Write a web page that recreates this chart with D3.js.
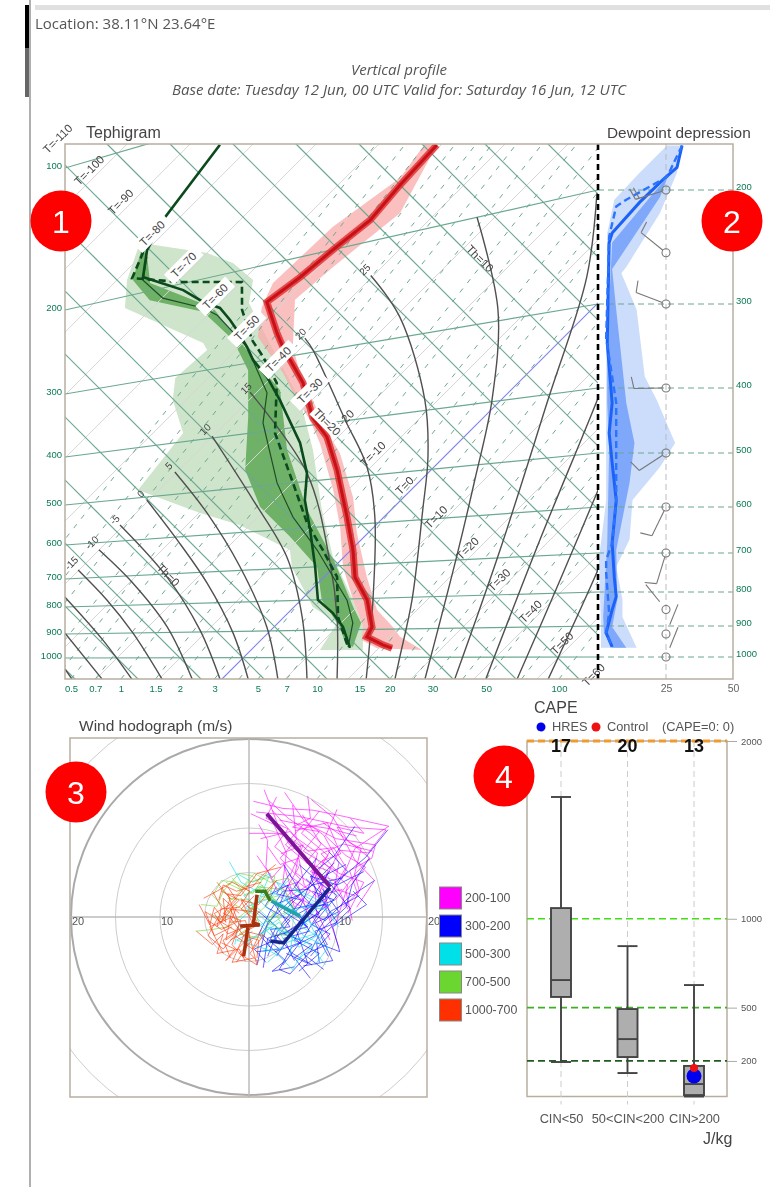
<!DOCTYPE html>
<html>
<head>
<meta charset="utf-8">
<script src="https://cdn.jsdelivr.net/npm/d3@7"></script>
<style>
  body { margin: 0; background: #fff; }
  svg { display: block; filter: blur(0.45px); }
</style>
</head>
<body>
<svg id="chart" width="770" height="1187"></svg>
<script>
// ---- grid values of the tephigram
var pressures = [100, 200, 300, 400, 500, 600, 700, 800, 900, 1000];
var rightPressures = [200, 300, 400, 500, 600, 700, 800, 900, 1000];
var isotherms = d3.range(-130, 121, 10);
var adiabats = d3.range(-40, 151, 10);
var mixingTicks = [0.5, 0.7, 1, 1.5, 2, 3, 5, 7, 10, 15, 20, 30, 50, 100];
var mixingLines = [0.1, 0.15, 0.2, 0.3, 0.4, 0.5, 0.7, 1, 1.5, 2, 3, 4, 5, 7, 10, 15, 20, 25, 30, 40, 50, 70, 100];
var tempLabels = [-110, -100, -90, -80, -70, -60, -50, -40, -30, -20, -10, 0, 10, 20, 30, 40, 50, 60];

// moist adiabats as [T, theta]
var moistCurves = [
  [[-23.1, -30.5], [-25.7, -30]],
  [[-18.5, -25.7], [-31.2, -24.3]],
  [[-13.8, -21], [-24.3, -19.4], [-36.8, -18.6]],
  [[-9.2, -16.2], [-20.8, -13.5], [-29.8, -12.4], [-38.9, -12.2]],
  [[-4.6, -11.4], [-16.5, -7.1], [-28.5, -5.6], [-38.8, -5.7]],
  [[-0.3, -7], [-10.9, -2.4], [-24.2, 0.8], [-39.4, 1.6]],
  [[4, -2.5], [-5.4, 2.4], [-17.1, 6.2], [-28.3, 8.3], [-39.1, 9.8]],
  [[8.6, 2.2], [-1.1, 8.7], [-14.5, 14], [-27.8, 17.3], [-39.1, 18.7]],
  [[13.1, 6.8], [2.8, 15.9], [-8.8, 23], [-22.8, 26.7], [-38.9, 30.3]],
  [[17.7, 11.6], [8.2, 21.4], [-1.2, 28.9], [-18.6, 39.5], [-39.8, 43.3]],
  [[22.2, 16.2], [11.1, 29.8], [-1.4, 43.3], [-10.3, 50], [-20.9, 54], [-36.6, 60], [-39.7, 60.6]],
  [[26.6, 20.8], [24, 25], [17.1, 36], [4.9, 52], [-2.5, 61.3], [-11.7, 69.8], [-28.3, 79], [-39.2, 81]],
  [[31.2, 25.6], [17.1, 50.3], [8.3, 65], [-1.4, 80.5], [-14.3, 95.7], [-31.8, 107.1]],
  [[35.8, 30.3], [22.9, 58], [7.2, 89.4], [-5.7, 115], [-17.1, 130]],
  [[40.6, 35.2], [27.5, 65.9], [14.8, 97.2], [5, 120]],
  [[45.4, 40.2], [36.8, 62.7], [28.6, 83.5], [20, 105]],
  [[50.2, 45.1], [40.8, 71], [35, 85]]
];
var moistLabels = ["-15", "-10", "-5", "0", "5", "10", "15", "20", "25"];
var moistLabelThetas = [-12.2, -5.7, 1.6, 9.8, 18.7, 30.3, 43.3, 60.6, 81];
var thLabels = ["Th=0", "Th=10", "Th=20"];
var thLabelPoints = [[-24.3, 1.3], [-25, 101], [-23.4, 50.8]];

// temperature profile, [T, theta]
var tempBand = [[-51.1, 110.5], [-49.7, 101.1], [-52.5, 82.7], [-53.1, 64.3], [-51.1, 58.7], [-47.1, 53.3], [-43.7, 52.7], [-37.7, 51.6], [-31.4, 49.5], [-26.3, 48.4], [-21.2, 46.3], [-12, 41], [-5.2, 36.2], [1.4, 30.3], [8, 26.7], [13.7, 24], [15.5, 21.7], [19.1, 22.8], [26.3, 29.7], [20.9, 28.3], [18.3, 28.7], [13.2, 28.9], [6.6, 32.5], [-1.7, 37.9], [-7.8, 43], [-16.6, 47.9], [-21.5, 49.2], [-35.1, 54.3], [-40.2, 57.3], [-47.1, 65.1], [-46.3, 76.3], [-44.3, 95.6], [-49.1, 112.2]];
var tempMedian = [[-49.1, 112.2], [-48.6, 100], [-47.8, 89.7], [-48.9, 79.7], [-49.8, 69.5], [-51.1, 60.3], [-44.8, 57], [-41.7, 55.7], [-38.6, 54.8], [-33.1, 53.2], [-26.2, 49.2], [-21.1, 48.4], [-14.5, 44.8], [-5.7, 38.9], [0.3, 34.6], [4.8, 30.6], [10.2, 28.9], [15.1, 25.4], [15.8, 23], [19.5, 24.3], [21.4, 25.2]];

// dew point profile, [T, theta]
var dewBandOuter = [[-77.4, 51.3], [-67.8, 58.6], [-62.3, 61.1], [-56.6, 61.6], [-53.7, 57.3], [-42.8, 53.7], [-30.9, 50], [-21.2, 44.1], [-10.6, 36], [-1.7, 30.3], [8, 26.7], [13.7, 24], [17.2, 20.3], [10.6, 13.5], [9.1, 20.5], [2.9, 19.2], [-6.5, 22.2], [-9.4, 24.6], [-20.9, 20.6], [-28.9, 16.2], [-42, 10], [-43.8, 26.2], [-50.5, 29.8], [-53.5, 33.7], [-52.9, 43.2], [-54.6, 43.7], [-72, 36.8], [-76, 41.6], [-79.2, 48.4]];
var dewBandInner = [[-78.6, 49], [-75.1, 42.5], [-69.4, 42], [-59.4, 48.6], [-51.4, 48.9], [-48.2, 48.1], [-43.5, 46.5], [-36.3, 39.1], [-28.6, 30.2], [-20.6, 26.7], [-11.4, 26.7], [-2.6, 26.2], [3.2, 21.7], [10.2, 20.3], [13.4, 18.6], [15.2, 19.2], [12.8, 24.3], [9.1, 25.6], [-0.5, 29.7], [-12.9, 33.7], [-25.2, 40], [-35.5, 48.4], [-46.8, 49.5], [-51.5, 50], [-58.5, 50.8], [-72, 44.8], [-77.1, 49]];
var dewHres = [[-82.5, 77.8], [-79.8, 57.6], [-77.5, 49.5], [-74, 44.6], [-65.8, 48.9], [-60.9, 50.2], [-57.4, 51.9], [-54, 51.6], [-51.4, 51.1], [-47.2, 50], [-44.3, 48.9], [-39.5, 48.4], [-34, 46.8], [-24.3, 43.2], [-18.6, 39.5], [-14.8, 34.9], [-9.4, 31], [-2.9, 25.9], [2.6, 21.1], [6.9, 21.4], [10.6, 20.8], [14.9, 18.6]];
var dewControl = [[-77.8, 48.6], [-75.5, 42.7], [-67.5, 49.7], [-58, 59.5], [-53.7, 55.1], [-47.5, 51.9], [-43.2, 51], [-37.1, 49], [-29.7, 40.8], [-19.2, 35.7], [-10.9, 31.6], [-4.3, 29.8], [2, 27.8], [8.3, 21.6], [14.5, 18.4]];
var dewMedian = [[-76.5, 48.4], [-73.5, 44.1], [-67.7, 44.4], [-60, 49.2], [-56.8, 50.3], [-47.2, 50], [-37.1, 45.9], [-33.1, 40.5], [-21.7, 33.2], [-14, 30.3], [-5.2, 28.9], [7.1, 25.7], [11.5, 23], [14.5, 18.4]];

// dewpoint depression panel, [depression, pressure]
var dpdBandOuter = [[30.2, 168], [29.1, 187], [22.8, 217], [10.4, 263], [8.6, 269], [14.2, 306], [17.2, 385], [21.6, 417], [28.4, 483], [22.8, 524], [12.7, 586], [11.6, 669], [6.7, 734], [9, 822], [9, 872], [14.2, 969], [1.1, 969], [1.1, 912], [0.4, 711], [3, 587], [3, 416], [3.4, 233], [6, 207], [15.3, 187], [25.4, 168]];
var dpdBandInner = [[29.5, 171], [25.4, 190], [5.2, 241], [3.4, 343], [3.4, 421], [4.1, 494], [3.4, 677], [1.9, 872], [2.2, 921], [5.2, 969], [10.4, 969], [5.2, 903], [7.1, 822], [6.7, 693], [11.6, 553], [13.4, 483], [10.4, 421], [6.7, 306], [5.2, 265], [22.8, 205]];
var dpdHres = [[31, 168], [29.1, 183], [23.9, 192], [15.3, 209], [5.2, 233], [4.1, 241], [3.4, 343], [5.2, 421], [4.1, 467], [5.2, 517], [6.7, 587], [5.2, 677], [6, 761], [6.7, 813], [5.2, 851], [3, 921], [5.2, 966]];
var dpdControl = [[31, 168], [25.4, 190], [10.4, 207], [6.7, 212], [4.1, 236], [3, 337], [6.7, 421], [6.7, 587], [5.2, 677], [3, 717], [3, 749], [4.1, 860], [3, 921], [5.2, 966]];

// wind barbs at the 25 tick
var barbPressures = [200, 250, 300, 400, 500, 600, 700, 850, 925, 1000];
var barbHeading = [253, 309, 291, 269, 237, 206, 197, 321, 22, 22];
var barbFeathers = [2, 1, 1, 1, 1, 1, 1, 0, 0, 0];

// hodograph members [u, v] in m/s
var hodoRings = [5, 10, 15, 20, 25];
var hodoLayers = ["200-100", "300-200", "500-300", "700-500", "1000-700"];
var hodoColors = ["#ff00ff", "#0000ff", "#00e0e8", "#6cd630", "#ff3000"];
var hodoMeanColors = ["#7c1498", "#16278c", "#1fa5a8", "#3f7d18", "#a8320f"];
var members200 = [
  [[1.7, 14.3], [3.2, 10.5], [4.5, 8.2], [6.8, 6.2], [8.4, 3.1], [9.3, -0.5]],
  [[4, 14], [6.2, 10.8], [8.4, 9.2], [10.1, 6.1], [9.6, 3.2], [11.9, 2.4]],
  [[7, 13.2], [9.4, 11.2], [11.2, 8.4], [12.6, 7.7], [11.8, 4.6], [9.7, 1.9]],
  [[0.5, 13], [3.8, 12.2], [7.2, 12], [10.2, 11.4], [15.7, 10.2], [11.9, 7.7], [10.4, 4.2]],
  [[0.2, 11.6], [2.8, 10.4], [4.2, 7.2], [3.8, 3.8], [6.1, 1.6], [8.1, -1.4]],
  [[0, 9.4], [3.4, 9.4], [5.8, 8], [5.2, 5], [7.4, 3.4], [7.6, 0.2]],
  [[0.8, 11.8], [5.6, 11.3], [11.2, 10.1], [15.4, 9.8], [13.4, 7.2], [10.2, 7.5], [8.6, 4.4]],
  [[2.6, 12], [5.4, 8.8], [3.5, 6.6], [5.8, 4.2], [4.2, 2.2], [6.4, 0.8]],
  [[6, 11.5], [8.1, 8.2], [6.4, 6.1], [8.9, 5.2], [7.8, 2.4], [10.5, 3.1]],
  [[3.4, 10.9], [7.2, 10.1], [9.8, 8.8], [14.2, 8.1], [13.8, 6.6], [11.3, 5.2], [12.2, 2.6]],
  [[1.3, 8.8], [4.6, 9.6], [6.6, 7.4], [9.5, 7.8], [10.9, 5.6], [9.2, 2.7]],
  [[4.9, 12.6], [5.3, 8.9], [7.7, 7.2], [7, 4.4], [9, 3], [8.2, 0.8]],
  [[8.3, 10.6], [10.6, 9], [13.6, 6.6], [11.9, 4.8], [12.4, 2.9], [10.6, 1.1]],
  [[2.1, 7.9], [3.5, 5.9], [5.6, 6.6], [6.2, 3.6], [8.4, 1.6], [10.1, -3.4]],
  [[5.2, 9.7], [8.8, 10.6], [10.3, 7.1], [8.2, 6.3], [11.1, 3.5], [9.7, -0.9]],
  [[3.6, 7.1], [6.1, 8.1], [4.6, 4.6], [6.9, 2.9], [5.1, 1.1], [4.4, 3.6]],
  [[12.1, 9.1], [9.2, 9.9], [6.1, 10.4], [4.1, 8.1], [7.1, 5.6], [8.6, 1.4]],
  [[13.9, 7.4], [10.6, 8.2], [8.1, 7.1], [10.1, 4.9], [12.9, 3.9], [11.1, 0.4]],
  [[2.2, 13.1], [4.4, 11.1], [6.9, 9.4], [9.1, 7.4], [7.1, 3.9], [5.6, 2.9]],
  [[1.1, 10.4], [2.1, 8.6], [1.9, 5.6], [3.1, 3.1], [5.4, 3.9], [6.9, -0.6]],
  [[9.9, 12.1], [8.6, 9.1], [10.9, 6.9], [13.1, 5.6], [10.9, 2.9], [11.6, -0.4]],
  [[6.6, 13.6], [6.9, 11.1], [4.9, 10.1], [7.9, 9.6], [6.1, 7.4], [9.9, 5.1]],
  [[3.1, 13.5], [1.9, 11.1], [4.4, 9.9], [2.9, 7.9], [5.6, 5.6], [3.6, 2.1]],
  [[11.4, 11.1], [12.9, 9.4], [9.9, 10.1], [11.9, 6.4], [14.1, 4.1], [12.1, 1.1]],
  [[0.9, 6.9], [2.6, 4.4], [3.9, 5.9], [4.9, 2.6], [7.4, 1.1], [9.1, -2.6]],
  [[7.9, 11.9], [5.9, 9.4], [8.9, 6.9], [6.9, 5.1], [9.6, 4.1], [11.1, 0.9]]
];
var members300 = [
  [[15.6, 9.8], [13.1, 6.7], [10.4, 4.4], [8.4, 1.4], [6.1, -2.4], [3.8, -5.4]],
  [[11.9, 10.2], [9.6, 6.9], [7.4, 5.1], [5.8, 1.2], [3.2, -1.6], [2.1, -4.4]],
  [[13.5, 6.6], [11.6, 3.7], [10.9, 1.1], [8.2, -1.4], [6.9, -3.9], [4.6, -6.4]],
  [[12.4, 2.4], [9.1, 0.6], [7.4, -2.1], [4.8, -3.4], [3.4, -5.9], [4.6, -6.4]],
  [[10.5, 4.4], [7.1, 3.6], [4.4, 1.6], [2.1, -0.6], [1.4, -3.2], [0.9, -5.4]],
  [[9.6, 6.1], [6.6, 3.1], [3.8, 2.9], [2.4, 0.7], [1.1, -1.9], [2.4, -3.4]],
  [[8.2, 3.2], [10.1, 0.6], [7.4, -0.7], [8.8, -3.1], [6.2, -4.2], [8.4, -5.9]],
  [[6.4, 4.3], [8.7, 2.1], [5.6, 0.4], [6.8, -1.6], [3.9, -2.4], [5.1, -4.9]],
  [[11.7, 2.9], [13.2, 1.4], [9.4, -1.1], [10.2, -3.9], [7.6, -2.9], [7.9, -5.1]],
  [[4.6, 4.9], [3.1, 2.6], [5.9, 1.9], [3.6, -0.9], [5.7, -2.9], [2.9, -3.9]],
  [[9.1, 5.2], [6.4, 1.1], [8.9, 1.4], [5.3, -1.4], [6.6, -5.2], [4.2, -4.1]],
  [[7.6, 6.6], [5.1, 3.4], [7.9, 0.4], [4.4, -1.6], [2.1, -2.4], [1.6, -5.7]],
  [[3.1, 3.4], [1.8, 1.2], [4.6, -0.4], [2.9, -2.6], [0.6, -3.6], [1.9, -5.1]],
  [[10.9, 5.9], [8.4, 4.6], [11.4, 0.9], [8.1, -2.2], [9.4, -4.9], [6.1, -5.5]],
  [[4.1, 2.1], [6.1, -0.4], [3.9, -1.9], [7.1, -3.1], [5.1, -4.6], [6.9, -6.9]],
  [[7.1, 2.9], [9.6, 1.9], [6.9, 0.9], [5.1, -2.6], [7.9, -4.1], [5.6, -6.1]],
  [[2.1, 2.4], [4.4, 3.6], [3.1, 0.6], [1.4, -1.9], [3.4, -3.6], [0.9, -3.9]],
  [[5.6, 5.9], [7.9, 3.9], [9.9, 2.4], [7.1, -0.9], [9.1, -1.9], [6.9, -4.4]],
  [[14.1, 4.1], [11.1, 2.1], [8.6, -0.4], [6.4, 0.6], [4.6, -2.1], [3.1, -4.4]],
  [[1.1, 0.6], [3.1, -1.1], [2.1, -3.1], [4.1, -4.9], [2.6, -6.1], [5.1, -5.6]],
  [[12.9, 5.1], [9.9, 3.6], [6.9, 4.6], [8.1, 1.6], [4.9, 0.9], [6.4, -1.1]],
  [[8.9, 7.4], [11.1, 5.1], [7.9, 2.4], [9.9, -0.6], [7.4, -1.6], [8.9, -4.4]],
  [[3.9, 5.9], [5.9, 2.6], [2.9, 1.4], [4.6, -1.1], [2.4, -1.4], [3.4, -3.1]],
  [[6.1, 2.9], [3.9, 0.6], [6.6, -1.1], [3.1, -2.1], [4.9, -4.1], [7.1, -5.4]]
];
var members500 = [
  [[-2.2, 6.2], [-0.9, 3.9], [0.9, 2.9], [3.4, 1.6], [5.9, 0.2], [7.9, -1.4]],
  [[1.6, 3.6], [-0.6, 2.4], [1.4, 0.6], [3.6, -1.6], [6.6, -2.9], [8.6, -5.4]],
  [[9.9, 0.2], [7.1, 1.6], [4.4, 0.4], [6.1, -2.1], [8.9, -3.4], [7.4, -5.4]],
  [[-1.2, -1.4], [0.9, -0.6], [2.9, -2.4], [1.6, -3.9], [3.9, -3.4], [2.1, -5.1]],
  [[4.4, 4.1], [2.4, 2.1], [-0.4, 1.1], [1.9, -1.1], [4.9, -1.9], [4.6, -4.4]],
  [[6.6, -0.9], [4.1, 1.9], [2.1, 3.1], [0.6, 1.1], [-1.1, -0.4], [-1.6, -3.1]],
  [[8.4, -1.6], [5.6, -3.4], [3.4, -0.6], [1.1, -2.1], [-0.6, -2.9], [2.6, -1.1]],
  [[9.2, 1.2], [6.4, 2.6], [3.1, 3.9], [4.9, 0.9], [2.4, -0.9], [0.4, 0.9]],
  [[3.1, 1.1], [5.4, 2.9], [7.9, 1.4], [5.9, -1.1], [8.1, -2.4], [5.4, -4.9]],
  [[0.4, -1.6], [-1.4, -2.6], [1.9, -3.6], [3.4, -4.4], [4.9, -5.9], [6.1, -3.9]],
  [[10.1, -1.1], [8.4, 0.9], [6.1, 1.1], [7.4, -1.9], [4.1, -2.9], [3.1, -1.1]],
  [[-1.4, 4.9], [0.4, 3.9], [2.4, 4.9], [1.1, 1.9], [3.1, 0.1], [0.9, -1.1]]
];
var members700 = [
  [[-5.4, 1.4], [-3.6, 1.2], [-2.9, 2.9], [-1.1, 4.9], [0.4, 4.6], [2.1, 2.9]],
  [[-6, -1.6], [-4.1, -1.4], [-2.4, -1.1], [-0.6, 0.4], [1.4, 1.9], [3.4, 2.4]],
  [[-2.6, 3.9], [-1, 3.1], [0.6, 4.9], [2.4, 3.9], [4.4, 4.4], [5.9, 2.4]],
  [[-1.9, 4.4], [-0.4, 2.4], [1.6, 3.4], [3.6, 1.1], [1.9, -0.4], [3.9, -1.6]],
  [[-3.4, 3.4], [-1.9, 1.9], [-0.1, 3.9], [2.9, 4.6], [2.1, 1.4], [0.6, 0.1]],
  [[-2.4, 2.1], [0.1, 1.9], [1.1, -0.6], [-1.1, -1.9], [1.4, -2.4], [2.9, 0.6]],
  [[0.9, 3.4], [3.9, 3.1], [5.1, 0.9], [3.1, 0.1], [4.6, -2.1], [2.4, -1.9]],
  [[-4.4, 0.4], [-2.9, -0.4], [-1.6, 1.4], [0.1, 0.4], [1.1, 2.4], [3.1, 1.9]],
  [[2.1, 5.1], [0.4, 2.6], [-1.4, 3.9], [-3.1, 4.1], [-4.1, 2.4], [-2.1, 0.4]]
];
var members1000 = [
  [[-5.9, -1.6], [-4.1, -3.1], [-2.9, -1.9], [-3.6, -4.1], [-1.1, -3.6], [-0.4, -5]],
  [[-5.6, 1.4], [-4.4, -0.9], [-3.9, 1.1], [-2.6, -0.6], [-2.9, 2.1], [-1.1, 0.4]],
  [[-4.1, 2.9], [-3.1, 1.1], [-3.6, -1.1], [-1.9, 0.9], [-2.6, -2.6], [-0.9, -1.4]],
  [[-2.4, 3.4], [-1.4, 1.9], [-2.9, 0.4], [-0.9, -0.4], [-1.9, -3.1], [-0.6, -4.6]],
  [[-2.1, -4.6], [-2.9, -2.6], [-1.4, -1.6], [-3.4, -0.4], [-1.1, 1.9], [-3.1, 2.9]],
  [[0.9, -4.6], [1.1, -2.6], [-0.6, -2.1], [0.9, -0.4], [-0.9, 0.9], [0.6, 2.4]],
  [[-0.4, -1.1], [-2.4, -1.9], [-3.9, 0.4], [-2.1, 1.4], [-0.4, 3.4], [1.4, 3.9]],
  [[3, 5.9], [1.4, 4.6], [0.4, 3.4], [-1.4, 2.9], [-2.9, 3.6], [-3.4, 1.9]],
  [[3.6, 5.6], [0.9, 4.9], [-0.9, 2.4], [-2.4, 2.6], [-1.1, -0.9], [-1.9, -2.1]],
  [[-3.1, -2.9], [-1.6, -3.6], [-2.6, -4.9], [-0.6, -2.9], [0.4, -3.6], [1.4, -1.4]],
  [[-4.6, -0.4], [-3.1, -1.4], [-1.4, -0.6], [-2.1, 0.9], [0.4, 0.6], [-0.9, 2.1]],
  [[-0.1, 1.1], [1.1, 0.6], [-0.4, -1.6], [1.6, -2.1], [0.1, -4.1], [1.1, -5.1]],
  [[-3.6, 3.9], [-2.1, 2.1], [-3.1, -0.6], [-4.9, 0.6], [-3.9, -2.1], [-1.9, -1.1]],
  [[-1.4, -5.1], [-0.1, -3.1], [-1.6, -2.1], [-2.9, -3.6], [-4.6, -2.1], [-3.4, 0.1]],
  [[0.4, -2.6], [-1.1, -4.1], [0.9, -5.4], [-0.4, -0.4], [-2.1, -0.6], [-1.4, 1.1]],
  [[-5.1, 2.1], [-3.6, 2.9], [-1.9, 3.9], [0.1, 2.9], [-1.1, 1.1], [-3.1, 0.9]],
  [[1.9, 2.9], [3.1, 4.1], [1.1, 1.4], [-0.9, 1.9], [0.6, -1.1], [-2.1, -2.6]],
  [[-2.9, -4.1], [-4.4, -1.1], [-2.1, -0.1], [-0.6, -2.1], [-1.9, -5.1], [0.6, -4.6]]
];
var mean200 = [[2, 11.6], [9.1, 3.4]];
var mean300 = [[9.1, 3.3], [3.9, -2.9], [2.4, -2.7]];
var mean500 = [[2.5, 1.8], [5.7, 0.1]];
var mean700 = [[0.7, 2.9], [1.8, 2.9], [2.4, 1.8]];
var mean1000 = [[-0.6, -4.4], [-0.1, -1], [-1, -1], [1.2, -0.9], [0.5, -0.7], [0.9, 2.5]];

// CAPE box plot
var capeCategories = ["CIN<50", "50<CIN<200", "CIN>200"];
var capeCounts = [17, 20, 13];
var capeWhiskerHigh = [1685, 846, 627];
var capeQ3 = [1060, 492, 172];
var capeMedian = [655, 323, 70];
var capeQ1 = [560, 222, 8];
var capeWhiskerLow = [194, 132, 0];
var capeTicks = [2000, 1000, 500, 200];
var capeLineColors = ["#f09a30", "#3fe010", "#3fb020", "#1f5c20"];
var capeHres = 115;
var capeControl = 160;

var markers = [["1", 61, 221], ["2", 732, 221], ["3", 76, 792], ["4", 504, 776]];

// ---- scales
var frame = { left: 65, split: 598, right: 733, top: 144, bottom: 679 };

var sumScale = d3.scaleLinear().domain([0, 10]).range([901, 966]);
var diffScale = d3.scaleLinear().domain([0, 10]).range([415, 352]);
function tephX(T, theta) { return (sumScale(T) - diffScale(theta)) / 2; }
function tephY(T, theta) { return (sumScale(T) + diffScale(theta)) / 2; }

// isobars slope a little, so they have one scale per end
var pLeft = d3.scaleLog().domain(pressures).range([168, 310, 394, 457, 505, 545, 579, 607, 634, 658]);
var pRight = d3.scaleLog().domain(pressures).range([13, 190, 304, 388, 453, 507, 553, 592, 626, 657]);
var mixingX = d3.scaleLog().domain([0.5, 1, 10, 100]).range([71, 121, 317, 559]);
var dpdX = d3.scaleLinear().domain([0, 25, 50]).range([frame.split, 666, frame.right]);
// grid isotherms and their labels run a bit tighter than the profile scale
var isothermAt = d3.scaleLinear().domain([0, 10]).range([0, 9.69]);
var tempLabelAt = d3.scaleLinear().domain([0, 10]).range([-1.7, 8]);

var tephLine = d3.line().x(function (d) { return tephX(d[0], d[1]); }).y(function (d) { return tephY(d[0], d[1]); });
var moistLine = d3.line().curve(d3.curveCatmullRom).x(function (d) { return tephX(d[0], d[1]); }).y(function (d) { return tephY(d[0], d[1]); });
var dpdLine = d3.line().x(function (d) { return dpdX(d[0]); }).y(function (d) { return pRight(d[1]); });

var svg = d3.select("#chart");
var defs = svg.append("defs");
defs.append("clipPath").attr("id", "tephClip").append("rect")
  .attr("x", frame.left).attr("y", frame.top).attr("width", frame.split - frame.left).attr("height", frame.bottom - frame.top);
defs.append("clipPath").attr("id", "dpdClip").append("rect")
  .attr("x", frame.split).attr("y", frame.top).attr("width", frame.right - frame.split).attr("height", frame.bottom - frame.top);

var plainFont = "'Liberation Sans', sans-serif";
var inkColor = "#444";
var gridGreen = "#6ba88f";
var labelGreen = "#0b7a55";

// ---- page furniture
svg.append("rect").attr("x", 25).attr("y", 5).attr("width", 4).attr("height", 43).attr("fill", "#000");
svg.append("rect").attr("x", 25).attr("y", 48).attr("width", 4).attr("height", 49).attr("fill", "#666");
svg.append("rect").attr("x", 29).attr("y", 0).attr("width", 2).attr("height", 1187).attr("fill", "#b0b0b0");
svg.append("rect").attr("x", 35).attr("y", 5).attr("width", 735).attr("height", 5).attr("fill", "#e0e0e0");

svg.append("text").attr("x", 35).attr("y", 29).attr("font-family", "'Open Sans'").attr("font-size", 15).attr("fill", "#555")
  .text("Location: 38.11°N 23.64°E");
svg.append("text").attr("x", 399).attr("y", 75).attr("text-anchor", "middle").attr("font-family", "'Open Sans'")
  .attr("font-style", "italic").attr("font-size", 15).attr("fill", "#555").text("Vertical profile");
svg.append("text").attr("x", 399).attr("y", 95).attr("text-anchor", "middle").attr("font-family", "'Open Sans'")
  .attr("font-style", "italic").attr("font-size", 15).attr("fill", "#555")
  .text("Base date: Tuesday 12 Jun, 00 UTC Valid for: Saturday 16 Jun, 12 UTC");

// ---- bands go under the grid, the lines go over it
var bands = svg.append("g").attr("clip-path", "url(#tephClip)");
bands.append("path").attr("d", tephLine(dewBandOuter) + "Z").attr("fill", "#cfe5cb");
bands.append("path").attr("d", tephLine(dewBandInner) + "Z").attr("fill", "#6fb267");
bands.append("path").attr("d", tephLine(tempBand) + "Z").attr("fill", "#f8a8a8").attr("fill-opacity", 0.72);

// ---- tephigram grid
var grid = svg.append("g").attr("clip-path", "url(#tephClip)").attr("fill", "none");

grid.selectAll(".isotherm").data(isotherms).enter().append("path")
  .attr("class", "isotherm")
  .attr("d", function (t) { return tephLine([[isothermAt(t), -150], [isothermAt(t), 250]]); })
  .attr("stroke", function (t) { return t === 0 ? "#8080f0" : "#d6d6d6"; })
  .attr("stroke-width", function (t) { return t === 0 ? 1.2 : 1; });

grid.selectAll(".mixing").data(mixingLines).enter().append("line")
  .attr("class", "mixing")
  .attr("x1", function (d) { return mixingX(d); })
  .attr("y1", frame.bottom)
  .attr("x2", function (d) { return mixingX(d) + (frame.bottom - frame.top) / 1.27; })
  .attr("y2", frame.top)
  .attr("stroke", gridGreen).attr("stroke-width", 1).attr("stroke-dasharray", "5,7");

grid.selectAll(".adiabat").data(adiabats).enter().append("path")
  .attr("class", "adiabat")
  .attr("d", function (t) { return tephLine([[-200, t], [200, t]]); })
  .attr("stroke", gridGreen).attr("stroke-width", 1.2);

grid.selectAll(".isobar").data(pressures).enter().append("line")
  .attr("class", "isobar")
  .attr("x1", frame.left).attr("x2", frame.split)
  .attr("y1", function (p) { return pLeft(p); })
  .attr("y2", function (p) { return pRight(p); })
  .attr("stroke", gridGreen).attr("stroke-width", 1.2);

grid.selectAll(".moist").data(moistCurves).enter().append("path")
  .attr("class", "moist")
  .attr("d", moistLine)
  .attr("stroke", "#505050").attr("stroke-width", 1.4);

// ---- temperature and dew point lines
var profiles = svg.append("g").attr("clip-path", "url(#tephClip)").attr("fill", "none");
profiles.append("path").attr("d", tephLine(tempMedian)).attr("stroke", "#e02c2c").attr("stroke-width", 7).attr("stroke-opacity", 0.8);
profiles.append("path").attr("d", tephLine(tempMedian)).attr("stroke", "#c81018").attr("stroke-width", 3);
profiles.append("path").attr("d", tephLine(dewMedian)).attr("stroke", "#1f4d25").attr("stroke-width", 1.2);
profiles.append("path").attr("d", tephLine(dewControl)).attr("stroke", "#0a4a1c").attr("stroke-width", 2.6).attr("stroke-dasharray", "7,4");
profiles.append("path").attr("d", tephLine(dewHres)).attr("stroke", "#0a4a1c").attr("stroke-width", 2.6);

// ---- labels along the grid
var tempLabelTheta = 53;
var tempLabelG = svg.selectAll(".tempLabel").data(tempLabels).enter().append("g")
  .attr("class", "tempLabel")
  .attr("transform", function (d) {
    var T = tempLabelAt(d);
    return "translate(" + tephX(T, tempLabelTheta) + "," + tephY(T, tempLabelTheta) + ") rotate(-45)";
  });
tempLabelG.filter(function (d) { return d >= -80 && d <= -30; }).append("rect")
  .attr("x", -21).attr("y", -7).attr("width", 42).attr("height", 14).attr("fill", "#fff");
tempLabelG.append("text")
  .attr("text-anchor", "middle").attr("dy", "0.35em")
  .attr("font-family", plainFont).attr("font-size", 11.5).attr("fill", inkColor)
  .text(function (d) { return "T=" + d; });

moistLabels.forEach(function (label, i) {
  var T = -41, theta = moistLabelThetas[i];
  svg.append("text")
    .attr("transform", "translate(" + tephX(T, theta) + "," + tephY(T, theta) + ") rotate(-45)")
    .attr("text-anchor", "middle").attr("dy", "0.35em")
    .attr("font-family", plainFont).attr("font-size", 10).attr("fill", inkColor)
    .text(label);
});
thLabels.forEach(function (label, i) {
  var pt = thLabelPoints[i];
  var g = svg.append("g")
    .attr("transform", "translate(" + tephX(pt[0], pt[1]) + "," + tephY(pt[0], pt[1]) + ") rotate(45)");
  if (label === "Th=20") {
    g.append("rect").attr("x", -18).attr("y", -7).attr("width", 36).attr("height", 14).attr("fill", "#fff");
  }
  g.append("text")
    .attr("text-anchor", "middle").attr("dy", "0.35em")
    .attr("font-family", plainFont).attr("font-size", 11.5).attr("fill", inkColor)
    .text(label);
});

// ---- dewpoint depression panel
var dpd = svg.append("g").attr("clip-path", "url(#dpdClip)").attr("fill", "none");
dpd.append("path").attr("d", dpdLine(dpdBandOuter) + "Z").attr("fill", "#ccdcfb");
dpd.append("path").attr("d", dpdLine(dpdBandInner) + "Z").attr("fill", "#7fa8fa");
dpd.selectAll(".dpdIsobar").data(rightPressures).enter().append("line")
  .attr("class", "dpdIsobar")
  .attr("x1", frame.split).attr("x2", frame.right)
  .attr("y1", function (p) { return pRight(p); })
  .attr("y2", function (p) { return pRight(p); })
  .attr("stroke", gridGreen).attr("stroke-dasharray", "6,4");
dpd.append("line").attr("x1", dpdX(25)).attr("x2", dpdX(25)).attr("y1", frame.top).attr("y2", frame.bottom)
  .attr("stroke", "#bbb").attr("stroke-dasharray", "6,4");
dpd.append("path").attr("d", dpdLine(dpdHres)).attr("stroke", "#1d62f8").attr("stroke-width", 3);
dpd.append("path").attr("d", dpdLine(dpdControl)).attr("stroke", "#2a74ff").attr("stroke-width", 2.4).attr("stroke-dasharray", "7,4");

// wind barbs
var barbLength = 32, feather = 12;
function polar(p, heading, len) {
  var a = heading * Math.PI / 180;
  return [dpdX(25) + len * Math.sin(a), pRight(p) - len * Math.cos(a)];
}
barbPressures.forEach(function (p, i) {
  var h = barbHeading[i], n = barbFeathers[i];
  svg.append("circle").attr("cx", dpdX(25)).attr("cy", pRight(p)).attr("r", 4)
    .attr("fill", "none").attr("stroke", "#777").attr("stroke-width", 1.1);
  var from = polar(p, h, n === 0 ? 10 : 4), to = polar(p, h, barbLength);
  svg.append("line").attr("x1", from[0]).attr("y1", from[1]).attr("x2", to[0]).attr("y2", to[1])
    .attr("stroke", "#777").attr("stroke-width", 1.1);
  d3.range(n).forEach(function (k) {
    var base = polar(p, h, barbLength - k * 4);
    var a = (h + 78) * Math.PI / 180;
    svg.append("line").attr("x1", base[0]).attr("y1", base[1])
      .attr("x2", base[0] + feather * Math.sin(a)).attr("y2", base[1] - feather * Math.cos(a))
      .attr("stroke", "#777").attr("stroke-width", 1.1);
  });
});

// black dashed zero line between the two panels
svg.append("line").attr("x1", frame.split).attr("x2", frame.split).attr("y1", frame.top).attr("y2", frame.bottom)
  .attr("stroke", "#000").attr("stroke-width", 2.6).attr("stroke-dasharray", "6,4");

// frame and axes
svg.append("rect").attr("x", frame.left).attr("y", frame.top)
  .attr("width", frame.right - frame.left).attr("height", frame.bottom - frame.top)
  .attr("fill", "none").attr("stroke", "#b8ae9e").attr("stroke-width", 1.5);

var leftAxis = svg.append("g").attr("transform", "translate(" + (frame.left - 3) + ",-3)")
  .call(d3.axisLeft(pLeft).tickValues(pressures).tickSize(0).tickPadding(0).tickFormat(d3.format("d")));
var rightAxis = svg.append("g").attr("transform", "translate(" + (frame.right + 1) + ",-4)")
  .call(d3.axisRight(pRight).tickValues(rightPressures).tickSize(0).tickPadding(2).tickFormat(d3.format("d")));
var mixingAxis = svg.append("g").attr("transform", "translate(0," + frame.bottom + ")")
  .call(d3.axisBottom(mixingX).tickValues(mixingTicks).tickSize(0).tickPadding(6).tickFormat(function (d) { return d; }));
[leftAxis, rightAxis, mixingAxis].forEach(function (ax) {
  ax.select(".domain").remove();
  ax.attr("font-family", plainFont).attr("font-size", 9.5);
  ax.selectAll("text").attr("fill", labelGreen);
});
var dpdAxis = svg.append("g").attr("transform", "translate(0," + frame.bottom + ")")
  .call(d3.axisBottom(dpdX).tickValues([25, 50]).tickSize(0).tickPadding(6));
dpdAxis.select(".domain").remove();
dpdAxis.attr("font-family", plainFont).attr("font-size", 10.5);
dpdAxis.selectAll("text").attr("fill", "#666");

svg.append("text").attr("x", 86).attr("y", 138).attr("font-family", plainFont).attr("font-size", 16).attr("fill", inkColor).text("Tephigram");
svg.append("text").attr("x", 607).attr("y", 138).attr("font-family", plainFont).attr("font-size", 15.4).attr("fill", inkColor).text("Dewpoint depression");

// ---- wind hodograph
var hodoBox = { left: 70, right: 427, top: 738, bottom: 1097 };
var hodoX = d3.scaleLinear().domain([-20, 20]).range([71, 427]);
var hodoY = d3.scaleLinear().domain([-20, 20]).range([1095, 739]);
var hodoR = d3.scaleLinear().domain([0, 20]).range([0, 178]);

defs.append("clipPath").attr("id", "hodoClip").append("rect")
  .attr("x", hodoBox.left).attr("y", hodoBox.top).attr("width", hodoBox.right - hodoBox.left).attr("height", hodoBox.bottom - hodoBox.top);

var hodo = svg.append("g").attr("clip-path", "url(#hodoClip)").attr("fill", "none");
hodo.selectAll(".ring").data(hodoRings).enter().append("circle")
  .attr("class", "ring")
  .attr("cx", hodoX(0)).attr("cy", hodoY(0))
  .attr("r", function (d) { return hodoR(d); })
  .attr("stroke", function (d) { return d === 20 ? "#aaa" : "#ccc"; })
  .attr("stroke-width", function (d) { return d === 20 ? 2 : 1; });
hodo.append("line").attr("x1", hodoBox.left).attr("x2", hodoBox.right).attr("y1", hodoY(0)).attr("y2", hodoY(0)).attr("stroke", "#bbb").attr("stroke-width", 1.5);
hodo.append("line").attr("x1", hodoX(0)).attr("x2", hodoX(0)).attr("y1", hodoBox.top).attr("y2", hodoBox.bottom).attr("stroke", "#bbb").attr("stroke-width", 1.5);

var hodoLine = d3.line().x(function (d) { return hodoX(d[0]); }).y(function (d) { return hodoY(d[1]); });
[members200, members300, members500, members700, members1000].forEach(function (members, i) {
  hodo.selectAll(".m" + i).data(members).enter().append("path")
    .attr("class", "m" + i)
    .attr("d", hodoLine)
    .attr("stroke", hodoColors[i]).attr("stroke-width", 1).attr("stroke-opacity", 0.6);
});
[mean200, mean300, mean500, mean700, mean1000].forEach(function (mean, i) {
  hodo.append("path").attr("d", hodoLine(mean)).attr("stroke", hodoMeanColors[i]).attr("stroke-width", i === 0 ? 4 : 3.5);
});

svg.append("rect").attr("x", hodoBox.left).attr("y", hodoBox.top).attr("width", hodoBox.right - hodoBox.left).attr("height", hodoBox.bottom - hodoBox.top)
  .attr("fill", "none").attr("stroke", "#b8ae9e").attr("stroke-width", 1.5);

[-20, -10, 10, 20].forEach(function (v) {
  svg.append("text").attr("x", hodoX(v) + 7).attr("y", hodoY(0) + 8)
    .attr("text-anchor", "middle").attr("font-family", plainFont).attr("font-size", 11).attr("fill", "#555").text(Math.abs(v));
});
svg.append("text").attr("x", 79).attr("y", 731).attr("font-family", plainFont).attr("font-size", 15.5).attr("fill", inkColor).text("Wind hodograph (m/s)");

// layer legend
var legendY = d3.scalePoint().domain(hodoLayers).range([898, 1010]);
hodoLayers.forEach(function (layer, i) {
  svg.append("rect").attr("x", 439.5).attr("y", legendY(layer) - 11).attr("width", 22).attr("height", 22)
    .attr("fill", hodoColors[i]).attr("stroke", "#888");
  svg.append("text").attr("x", 465).attr("y", legendY(layer) + 4)
    .attr("font-family", plainFont).attr("font-size", 12.4).attr("fill", "#555").text(layer);
});

// ---- CAPE box plot
var capeBox = { left: 527, right: 727 };
var capeY = d3.scaleLinear().domain([0, 2000]).range([1096.5, 741]);
var capeX = d3.scalePoint().domain(capeCategories).range([561, 694]);
var boxWidth = 20;
var capeG = svg.append("g");

capeG.append("rect").attr("x", capeBox.left).attr("y", capeY(2000)).attr("width", capeBox.right - capeBox.left).attr("height", capeY(0) - capeY(2000))
  .attr("fill", "none").attr("stroke", "#b8ae9e").attr("stroke-width", 1.5);

capeG.selectAll(".capeGuide").data(capeCategories).enter().append("line")
  .attr("class", "capeGuide")
  .attr("x1", function (d) { return capeX(d); })
  .attr("x2", function (d) { return capeX(d); })
  .attr("y1", capeY(2000)).attr("y2", capeY(0) + 8)
  .attr("stroke", "#ccc").attr("stroke-dasharray", "6,4");

capeG.selectAll(".capeLevel").data(capeTicks).enter().append("line")
  .attr("class", "capeLevel")
  .attr("x1", capeBox.left).attr("x2", capeBox.right)
  .attr("y1", function (d) { return capeY(d); })
  .attr("y2", function (d) { return capeY(d); })
  .attr("stroke", function (d, i) { return capeLineColors[i]; })
  .attr("stroke-width", function (d) { return d === 2000 ? 3 : 1.7; })
  .attr("stroke-dasharray", "7,4");

capeCategories.forEach(function (cat, i) {
  var x = capeX(cat), box = capeG.append("g").attr("stroke", "#444").attr("stroke-width", 1.9);
  box.append("line").attr("x1", x).attr("x2", x).attr("y1", capeY(capeWhiskerHigh[i])).attr("y2", capeY(capeWhiskerLow[i]));
  box.append("line").attr("x1", x - boxWidth / 2).attr("x2", x + boxWidth / 2).attr("y1", capeY(capeWhiskerHigh[i])).attr("y2", capeY(capeWhiskerHigh[i]));
  box.append("line").attr("x1", x - boxWidth / 2).attr("x2", x + boxWidth / 2).attr("y1", capeY(capeWhiskerLow[i])).attr("y2", capeY(capeWhiskerLow[i]));
  box.append("rect").attr("x", x - boxWidth / 2).attr("width", boxWidth)
    .attr("y", capeY(capeQ3[i])).attr("height", capeY(capeQ1[i]) - capeY(capeQ3[i])).attr("fill", "#aeaeae");
  box.append("line").attr("x1", x - boxWidth / 2).attr("x2", x + boxWidth / 2).attr("y1", capeY(capeMedian[i])).attr("y2", capeY(capeMedian[i]));
  capeG.append("text").attr("x", x).attr("y", 752).attr("text-anchor", "middle")
    .attr("font-family", plainFont).attr("font-weight", "bold").attr("font-size", 18).attr("fill", "#111").text(capeCounts[i]);
});

capeG.append("circle").attr("cx", capeX("CIN>200")).attr("cy", capeY(capeHres)).attr("r", 7.5).attr("fill", "#0000ee");
capeG.append("circle").attr("cx", capeX("CIN>200")).attr("cy", capeY(capeControl)).attr("r", 4).attr("fill", "#ee1111");

var capeAxis = svg.append("g").attr("transform", "translate(" + capeBox.right + ",0)")
  .call(d3.axisRight(capeY).tickValues(capeTicks).tickSize(10).tickPadding(4).tickFormat(d3.format("d")));
capeAxis.select(".domain").remove();
capeAxis.attr("font-family", plainFont).attr("font-size", 9.5);
capeAxis.selectAll("line").attr("stroke", "#aaa");
capeAxis.selectAll("text").attr("fill", "#555");

var catAxis = svg.append("g").attr("transform", "translate(0," + capeY(0) + ")")
  .call(d3.axisBottom(capeX).tickSize(0).tickPadding(17));
catAxis.select(".domain").remove();
catAxis.attr("font-family", plainFont).attr("font-size", 12.8);
catAxis.selectAll("text").attr("fill", "#555");

svg.append("text").attr("x", 703).attr("y", 1144).attr("font-family", plainFont).attr("font-size", 16).attr("fill", inkColor).text("J/kg");
svg.append("text").attr("x", 534).attr("y", 713).attr("font-family", plainFont).attr("font-size", 16).attr("fill", inkColor).text("CAPE");
svg.append("circle").attr("cx", 541).attr("cy", 727).attr("r", 4.5).attr("fill", "#0000ee");
svg.append("text").attr("x", 552).attr("y", 731).attr("font-family", plainFont).attr("font-size", 12.8).attr("fill", "#555").text("HRES");
svg.append("circle").attr("cx", 596).attr("cy", 727).attr("r", 4.5).attr("fill", "#ee1111");
svg.append("text").attr("x", 607).attr("y", 731).attr("font-family", plainFont).attr("font-size", 12.8).attr("fill", "#555").text("Control");
svg.append("text").attr("x", 662).attr("y", 731).attr("font-family", plainFont).attr("font-size", 12.8).attr("fill", "#555").text("(CAPE=0: 0)");

// ---- numbered red markers
markers.forEach(function (m) {
  svg.append("circle").attr("cx", m[1]).attr("cy", m[2]).attr("r", 30.5).attr("fill", "#ff0000");
  svg.append("text").attr("x", m[1]).attr("y", m[2]).attr("dy", "0.36em").attr("text-anchor", "middle")
    .attr("font-family", plainFont).attr("font-size", 32).attr("fill", "#fff").text(m[0]);
});
</script>
</body>
</html>
